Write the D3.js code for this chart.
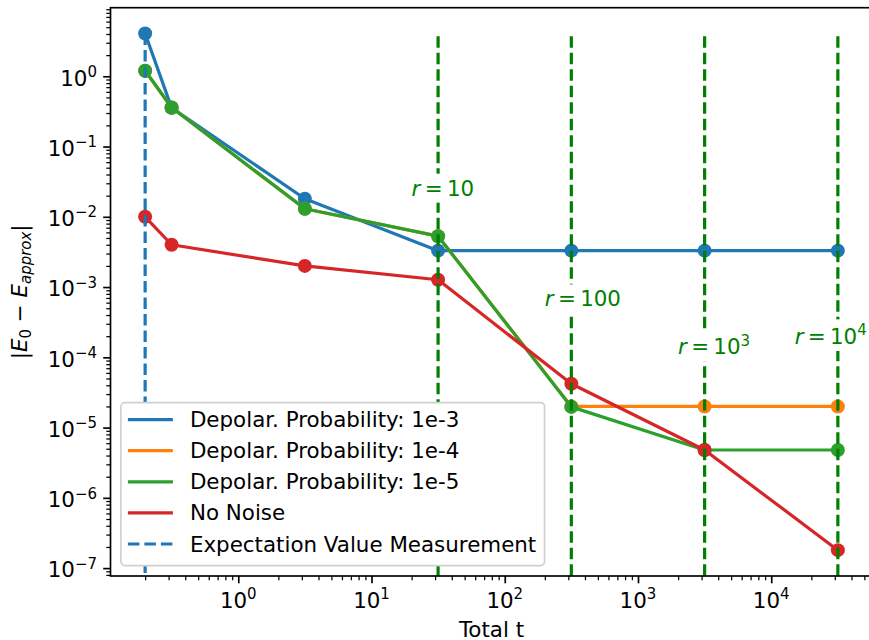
<!DOCTYPE html>
<html>
<head>
<meta charset="utf-8">
<script src="https://cdn.jsdelivr.net/npm/d3@7"></script>
<style>
body { margin: 0; background: #fff; }
svg text { font-family: "DejaVu Sans", sans-serif; }
</style>
</head>
<body>
<div id="chart"></div>
<script>
// values
var totalT   = [0.2, 0.316, 3.16, 31.6, 316, 3162, 31623];
var depol1e3 = [4.06, 0.355, 0.0181, 0.0033, 0.0033, 0.0033, 0.0033];
var depol1e4 = [1.2, 0.36, 0.013, 0.0053, 2.0e-5, 2.0e-5, 2.0e-5];
var depol1e5 = [1.2, 0.36, 0.013, 0.0053, 1.97e-5, 4.8e-6, 4.8e-6];
var noNoise  = [0.01, 0.004, 0.002, 0.00127, 4.2e-5, 4.8e-6, 1.8e-7];

var seriesNames  = ["Depolar. Probability: 1e-3", "Depolar. Probability: 1e-4",
                    "Depolar. Probability: 1e-5", "No Noise"];
var seriesColors = ["#1f77b4", "#ff7f0e", "#2ca02c", "#d62728"];
var seriesValues = [depol1e3, depol1e4, depol1e5, noNoise];

// expectation value measurement marker line
var expT = [0.2];
var expTop = [4.06];
var expLabel = "Expectation Value Measurement";

// r markers
var rT = [31.6, 316, 3162, 31623];
var rTop = 3.7;
var rBase = ["10", "100", "10", "10"];
var rExp = ["", "", "3", "4"];
var rLabelT = [20, 200, 2000, 15000];
var rLabelE = [0.02, 5.3e-4, 1.1e-4, 1.55e-4];

var xTickExps = [0, 1, 2, 3, 4];
var yTickExps = [-7, -6, -5, -4, -3, -2, -1, 0];

var fs = 21.4;

var margin = {top: 7.7, right: -3.5, bottom: 64, left: 110.5},
    width = 869 - margin.left - margin.right,
    height = 640 - margin.top - margin.bottom;

var svg = d3.select("#chart")
    .append("svg")
    .attr("width", 869)
    .attr("height", 640)
    .style("display", "block");

var g = svg.append("g")
    .attr("transform", "translate(" + margin.left + "," + margin.top + ")");

// log limits with 5% padding like matplotlib
function logPad(vals) {
    var lo = Math.log10(d3.min(vals)), hi = Math.log10(d3.max(vals)), p = (hi - lo) * 0.05;
    return [Math.pow(10, lo - p), Math.pow(10, hi + p)];
}
var allY = [].concat(depol1e3, depol1e4, depol1e5, noNoise);

var x = d3.scaleLog().domain(logPad(totalT)).range([0, width]);
var y = d3.scaleLog().domain(logPad(allY)).range([height, 0]);

function minors(dom) {
    var out = [];
    for (var e = Math.floor(Math.log10(dom[0])); e <= Math.ceil(Math.log10(dom[1])); e++) {
        for (var k = 2; k <= 9; k++) {
            var v = k * Math.pow(10, e);
            if (v >= dom[0] && v <= dom[1]) out.push(v);
        }
    }
    return out;
}

// ticks
function styleAxis(sel, w) {
    sel.select(".domain").remove();
    sel.selectAll("line").attr("stroke", "#000").attr("stroke-width", w);
}
g.append("g").attr("transform", "translate(0," + height + ")")
    .call(d3.axisBottom(x).tickValues(minors(x.domain())).tickSize(4.2).tickSizeOuter(0).tickFormat(""))
    .call(styleAxis, 1.25);
g.append("g").attr("transform", "translate(0," + height + ")")
    .call(d3.axisBottom(x).tickValues(xTickExps.map(function(e) { return Math.pow(10, e); }))
        .tickSize(7.3).tickSizeOuter(0).tickFormat(""))
    .call(styleAxis, 1.67);
g.append("g")
    .call(d3.axisLeft(y).tickValues(minors(y.domain())).tickSize(4.2).tickSizeOuter(0).tickFormat(""))
    .call(styleAxis, 1.25);
g.append("g")
    .call(d3.axisLeft(y).tickValues(yTickExps.map(function(e) { return Math.pow(10, e); }))
        .tickSize(7.3).tickSizeOuter(0).tickFormat(""))
    .call(styleAxis, 1.67);

function powLabel(sel, base, exp) {
    sel.append("tspan").text(base);
    if (exp !== "") {
        sel.append("tspan").attr("dy", -8.6).style("font-size", (fs * 0.7) + "px").text(exp);
    }
}

// x tick labels
xTickExps.forEach(function(e) {
    var t = g.append("text")
        .attr("x", x(Math.pow(10, e)))
        .attr("y", height + 32)
        .attr("text-anchor", "middle")
        .style("font-size", fs + "px")
        .attr("fill", "#000");
    powLabel(t, "10", String(e));
});

// y tick labels
yTickExps.forEach(function(e) {
    var t = g.append("text")
        .attr("x", -13.5)
        .attr("y", y(Math.pow(10, e)) + 9.3)
        .attr("text-anchor", "end")
        .style("font-size", fs + "px")
        .attr("fill", "#000");
    powLabel(t, "10", String(e).replace("-", "\u2212"));
});

// series
var line = d3.line()
    .x(function(d) { return x(d[0]); })
    .y(function(d) { return y(d[1]); });

seriesValues.forEach(function(vals, i) {
    var pts = totalT.map(function(t, j) { return [t, vals[j]]; });
    var sg = g.append("g");
    sg.append("path")
        .datum(pts)
        .attr("d", line)
        .attr("fill", "none")
        .attr("stroke", seriesColors[i])
        .attr("stroke-width", 3.2)
        .attr("stroke-linejoin", "round");
    sg.selectAll("circle")
        .data(pts)
        .enter()
        .append("circle")
        .attr("cx", function(d) { return x(d[0]); })
        .attr("cy", function(d) { return y(d[1]); })
        .attr("r", 7)
        .attr("fill", seriesColors[i]);
});

// expectation value line
g.selectAll(".expline")
    .data(expT)
    .enter()
    .append("line")
    .attr("x1", function(d) { return x(d); })
    .attr("x2", function(d) { return x(d); })
    .attr("y1", function(d, i) { return y(expTop[i]); })
    .attr("y2", height)
    .attr("stroke", "#1f77b4")
    .attr("stroke-width", 3.2)
    .attr("stroke-dasharray", "11.5,5");

// r lines
g.selectAll(".rline")
    .data(rT)
    .enter()
    .append("line")
    .attr("x1", function(d) { return x(d); })
    .attr("x2", function(d) { return x(d); })
    .attr("y1", y(rTop))
    .attr("y2", height)
    .attr("stroke", "#008000")
    .attr("stroke-width", 3.2)
    .attr("stroke-dasharray", "11.5,5");

// r labels with white box
rT.forEach(function(r, i) {
    var lg = g.append("g");
    var bg = lg.append("rect").attr("fill", "#fff");
    var t = lg.append("text")
        .attr("x", x(rLabelT[i]))
        .attr("y", y(rLabelE[i]))
        .style("font-size", fs + "px")
        .attr("fill", "#008000");
    t.append("tspan").style("font-style", "italic").text("r");
    t.append("tspan").text("\u2009=\u2009");
    powLabel(t, rBase[i], rExp[i]);
    var b = t.node().getBBox();
    bg.attr("x", b.x - 4).attr("y", b.y - 2).attr("width", b.width + 8).attr("height", b.height + 4);
});

// frame
g.append("rect")
    .attr("width", width)
    .attr("height", height)
    .attr("fill", "none")
    .attr("stroke", "#000")
    .attr("stroke-width", 1.67);

// legend
var legendItems = seriesNames.map(function(n, i) { return {label: n, color: seriesColors[i], dash: false}; });
legendItems.push({label: expLabel, color: "#1f77b4", dash: true});

var legX = 10.4, legH = 163, legY = height - 10.4 - legH;
var leg = g.append("g").attr("transform", "translate(" + legX + "," + legY + ")");
var legBox = leg.append("rect")
    .attr("height", legH)
    .attr("rx", 4)
    .attr("fill", "#fff")
    .attr("stroke", "#d0d0d0")
    .attr("stroke-width", 1.67);
var maxW = 0;
legendItems.forEach(function(d, i) {
    var ry = 17 + i * 31.1;
    leg.append("line")
        .attr("x1", 7).attr("x2", 52)
        .attr("y1", ry).attr("y2", ry)
        .attr("stroke", d.color)
        .attr("stroke-width", 3.2)
        .attr("stroke-dasharray", d.dash ? "11.5,5" : null);
    var t = leg.append("text")
        .attr("x", 69)
        .attr("y", ry + 7.6)
        .style("font-size", fs + "px")
        .attr("fill", "#000")
        .text(d.label);
    maxW = Math.max(maxW, t.node().getComputedTextLength());
});
legBox.attr("width", 69 + maxW + 8.3);

// axis labels
g.append("text")
    .attr("x", width / 2)
    .attr("y", height + 61.5)
    .attr("text-anchor", "middle")
    .style("font-size", fs + "px")
    .text("Total t");

var yl = svg.append("text")
    .attr("transform", "translate(26.5," + (margin.top + height / 2) + ") rotate(-90)")
    .attr("text-anchor", "middle")
    .style("font-size", fs + "px");
yl.append("tspan").text("|");
yl.append("tspan").style("font-style", "italic").text("E");
yl.append("tspan").attr("dy", 4).style("font-size", (fs * 0.7) + "px").text("0");
yl.append("tspan").attr("dy", -4).text(" \u2212 ");
yl.append("tspan").style("font-style", "italic").text("E");
yl.append("tspan").attr("dy", 4).style("font-size", (fs * 0.7) + "px").style("font-style", "italic").text("approx");
yl.append("tspan").attr("dy", -4).text("|");
</script>
</body>
</html>
